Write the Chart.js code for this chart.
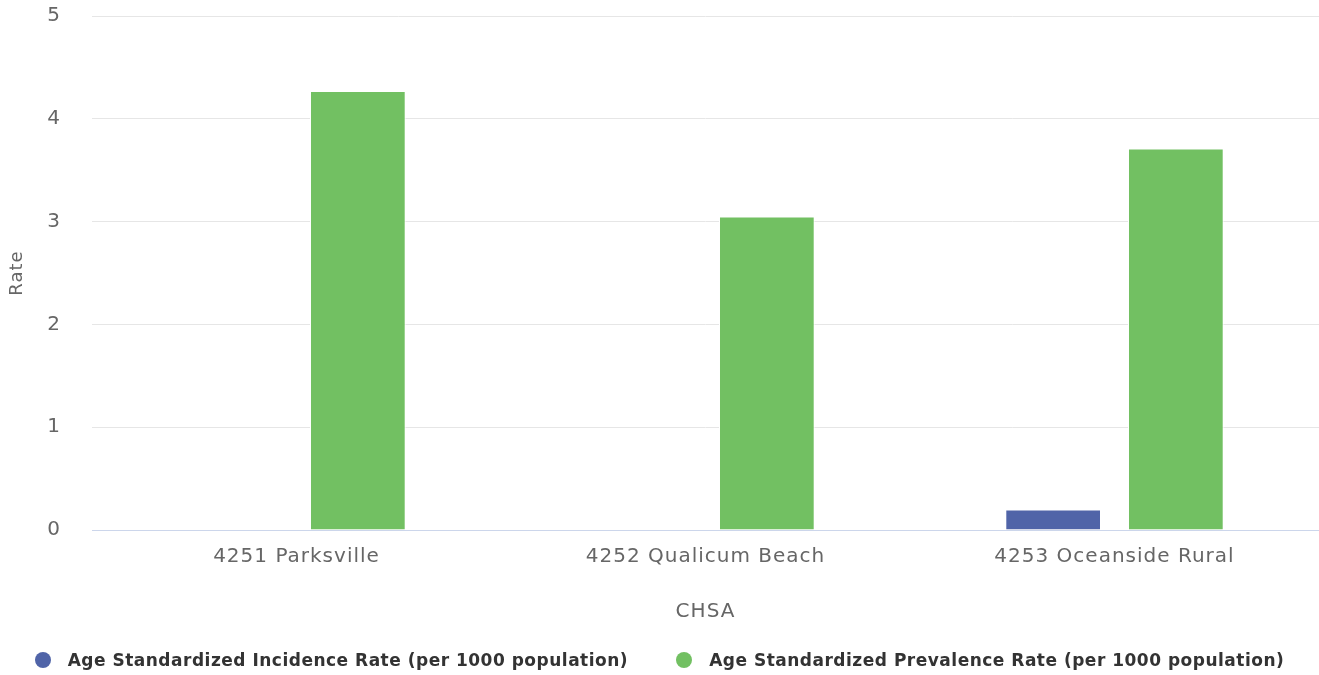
<!DOCTYPE html>
<html>
<head>
<meta charset="utf-8">
<script src="https://cdn.jsdelivr.net/npm/chart.js@4/dist/chart.umd.min.js"></script>
<style>
  html, body { margin: 0; padding: 0; background: #fff; }
  #wrap { width: 1319px; height: 675px; position: relative; }
  #legend { position: absolute; left: 0; right: 0; top: 649px; display: flex; justify-content: center;
    gap: 48px; font: bold 17px 'DejaVu Sans', sans-serif; letter-spacing: 0.5px; color: #333; line-height: 22px; }
  .lg { display: flex; align-items: center; white-space: nowrap; }
  .dot { width: 16px; height: 16px; border-radius: 50%; margin-right: 17px; display: inline-block; }
</style>
</head>
<body>
<div id="wrap"><canvas id="chart"></canvas><div id="legend"></div></div>
<script>
const CATEGORIES = ['4251 Parksville', '4252 Qualicum Beach', '4253 Oceanside Rural'];
const SERIES = ['Age Standardized Incidence Rate (per 1000 population)',
  'Age Standardized Prevalence Rate (per 1000 population)'];
const INCIDENCE = [0, 0, 0.2];
const PREVALENCE = [4.27, 3.05, 3.71];
const Y_TICKS = [0, 1, 2, 3, 4, 5];

const COLORS = ['#5064a8', '#72c062'];
const FONT = "'DejaVu Sans', sans-serif";

// wide Highcharts-like text; canvas state resets on resize so set it each pass
const spacing = {
  id: 'spacing',
  beforeUpdate: (c) => { c.ctx.letterSpacing = '1px'; },
  beforeLayout: (c) => { c.ctx.letterSpacing = '1px'; },
  beforeDraw: (c) => { c.ctx.letterSpacing = '1px'; },
};

new Chart(document.getElementById('chart'), {
  type: 'bar',
  plugins: [spacing],
  data: {
    labels: CATEGORIES,
    datasets: [
      { label: SERIES[0], data: INCIDENCE, backgroundColor: COLORS[0], borderColor: '#fff', borderWidth: 1 },
      { label: SERIES[1], data: PREVALENCE, backgroundColor: COLORS[1], borderColor: '#fff', borderWidth: 1 },
    ],
  },
  options: {
    responsive: true,
    maintainAspectRatio: false,
    animation: false,
    categoryPercentage: 0.6,
    barPercentage: 0.78,
    layout: { padding: { top: 16, right: 0, left: 0, bottom: 0 } },
    plugins: { tooltip: { enabled: false }, legend: { display: false } },
    scales: {
      x: {
        afterFit: (s) => { s.height = 145; },
        grid: { display: false, drawTicks: false },
        border: { color: '#ccd6eb', width: 1 },
        ticks: { color: '#666', padding: 15, font: { family: FONT, size: 20 } },
        title: { display: true, text: 'CHSA', color: '#666', padding: { top: 0, bottom: 51 },
          font: { family: FONT, size: 20 } },
      },
      y: {
        min: 0, max: 5,
        afterBuildTicks: (ax) => { ax.ticks = Y_TICKS.map(v => ({ value: v })); },
        afterFit: (s) => { s.width = 92; s.paddingTop = 0; s.paddingBottom = 0; },
        grid: { color: '#e6e6e6', drawTicks: false },
        border: { display: false },
        ticks: { color: '#666', padding: 31, font: { family: FONT, size: 20 } },
        title: { display: true, text: 'Rate', color: '#666', padding: { top: 7, bottom: 0 },
          font: { family: FONT, size: 18 } },
      },
    },
  },
});

document.getElementById('legend').innerHTML = SERIES.map((s, i) =>
  `<span class="lg"><span class="dot" style="background:${COLORS[i]}"></span>${s}</span>`).join('');
</script>
</body>
</html>
